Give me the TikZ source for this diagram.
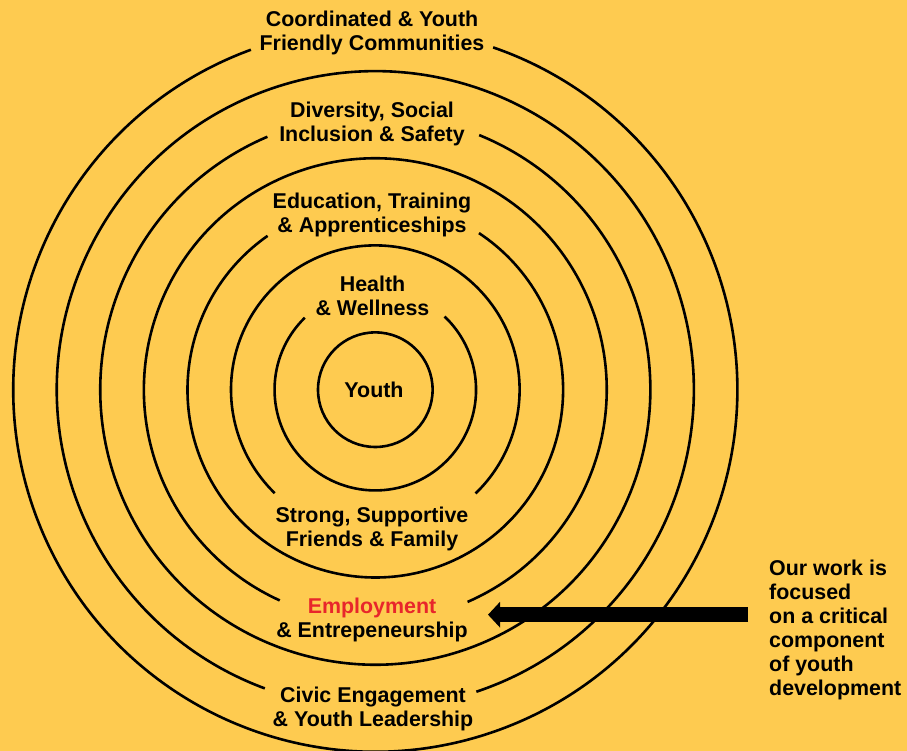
\documentclass[tikz,border=0pt]{standalone}
\usepackage{fontspec}
\setmainfont{Liberation Sans}
\usetikzlibrary{arrows.meta}
\definecolor{bgyellow}{HTML}{FECB50}
\definecolor{empred}{HTML}{E8262B}
\newcommand\twoline[2]{\vtop{\baselineskip=24pt\halign{\hfil##\hfil\cr#1\cr#2\cr}}}
\newcommand\leftlines[1]{\vtop{\baselineskip=24pt\halign{##\hfil\cr#1\crcr}}}
\begin{document}
\begin{tikzpicture}[x=1pt,y=1pt,
  ring/.style={draw=black,line width=2.6pt},
  lab/.style={font=\bfseries\fontsize{21.4}{24}\selectfont,inner sep=0pt,anchor=base,text=black},
  fatarrow/.style={draw=black,line width=15pt,-{Triangle[length=12pt,width=25pt]}}]
\useasboundingbox (0,0) rectangle (907,751);
\fill[bgyellow] (0,0) rectangle (907,751);
\coordinate (c) at (375.3,361.3);
% rings (outer to inner)
\draw[ring] (c) ++(110.1:362pt) arc[start angle=110.1,end angle=431.0,radius=362pt];
\draw[ring] (c) ++(-71.5:318.5pt) arc[start angle=-71.5,end angle=249.7,radius=318.5pt];
\draw[ring] (c) ++(113.1:275pt) arc[start angle=113.1,end angle=427.8,radius=275pt];
\draw[ring] (c) ++(-66.5:231.4pt) arc[start angle=-66.5,end angle=245.6,radius=231.4pt];
\draw[ring] (c) ++(125.0:187.8pt) arc[start angle=125.0,end angle=416.5,radius=187.8pt];
\draw[ring] (c) ++(-46.0:144.3pt) arc[start angle=-46.0,end angle=225.8,radius=144.3pt];
\draw[ring] (c) ++(134.4:100.75pt) arc[start angle=134.4,end angle=406.6,radius=100.75pt];
\draw[ring] (c) circle[radius=57.3pt];
% labels
\node[lab] (coord) at (372,724) {\twoline{Coordinated \& Youth}{Friendly Communities}};
\node[lab] (div) at (372,633) {\twoline{Diversity, Social}{Inclusion \& Safety}};
\node[lab] (edu) at (372,542) {\twoline{Education, Training}{\& Apprenticeships}};
\node[lab] (health) at (372.5,459) {\twoline{Health}{\& Wellness}};
\node[lab] (youth) at (374,353) {Youth};
\node[lab] (strong) at (372,228) {\twoline{Strong, Supportive}{Friends \& Family}};
\node[lab] (employ) at (372,137) {\twoline{\textcolor{empred}{Employment}}{\& Entrepeneurship}};
\node[lab] (civic) at (373,48) {\twoline{Civic Engagement}{\& Youth Leadership}};
\node[lab,anchor=base west] (note) at (769,175) {\leftlines{Our work is\cr focused\cr on a critical\cr component\cr of youth\cr development}};
% arrow
\coordinate (atail) at (748,136.3);
\coordinate (ahead) at (488,136.3);
\draw[fatarrow] (atail) -- (ahead);
\end{tikzpicture}
\end{document}
